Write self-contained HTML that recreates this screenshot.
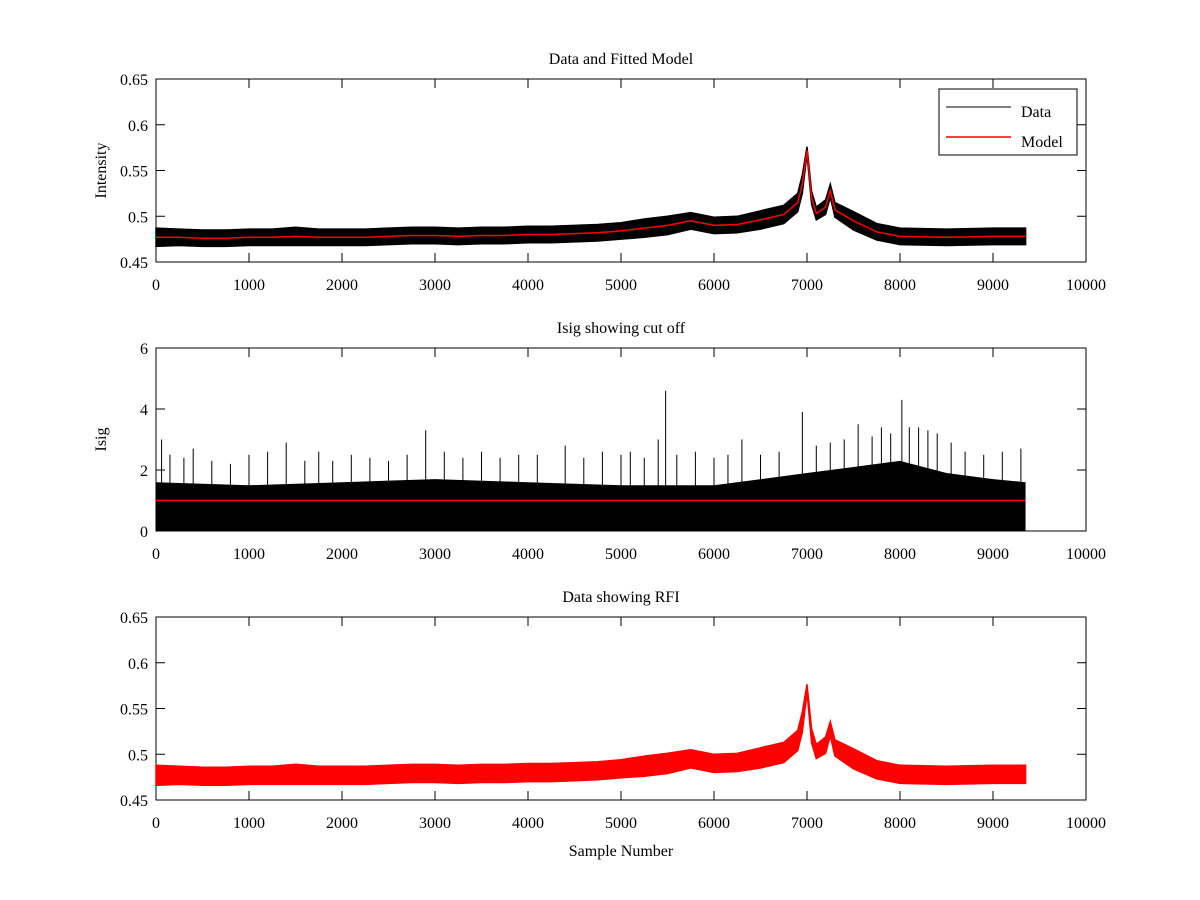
<!DOCTYPE html>
<html><head><meta charset="utf-8">
<style>
html,body{margin:0;padding:0;background:#fff;}
svg{display:block;}
text{font-family:"Liberation Serif",serif;font-size:16px;fill:#000;}
</style></head>
<body>
<svg id="fig" width="1200" height="900"></svg>
<script>
// ---- data ----
const sampleX = [0,250,500,750,1000,1250,1500,1750,2000,2250,2500,2750,3000,3250,3500,3750,4000,4250,4500,4750,5000,5250,5500,5750,6000,6250,6500,6750,6900,6950,7000,7050,7100,7200,7250,7300,7500,7750,8000,8500,9000,9350];
const modelY = [0.477,0.477,0.476,0.476,0.477,0.477,0.478,0.477,0.477,0.477,0.478,0.479,0.479,0.478,0.479,0.479,0.480,0.480,0.481,0.482,0.484,0.487,0.490,0.495,0.490,0.491,0.496,0.502,0.515,0.535,0.572,0.52,0.503,0.510,0.528,0.507,0.495,0.483,0.478,0.477,0.478,0.478];
const dataNoise = [0.010,0.009,0.009,0.009,0.009,0.009,0.010,0.009,0.009,0.009,0.009,0.009,0.009,0.009,0.009,0.009,0.009,0.009,0.009,0.009,0.009,0.010,0.010,0.009,0.009,0.009,0.010,0.010,0.010,0.010,0.004,0.007,0.007,0.008,0.007,0.008,0.010,0.009,0.009,0.009,0.009,0.009];
const isigX = [0,1000,2000,3000,4000,5000,6000,7000,7500,8000,8500,9000,9350];
const isigUpper = [1.6,1.5,1.6,1.7,1.6,1.5,1.5,1.9,2.1,2.3,1.9,1.7,1.6];
const spikeX = [60,150,300,400,600,800,1000,1200,1400,1600,1750,1900,2100,2300,2500,2700,2900,3100,3300,3500,3700,3900,4100,4400,4600,4800,5000,5100,5250,5400,5480,5600,5800,6000,6150,6300,6500,6700,6950,7100,7250,7400,7550,7700,7800,7900,8020,8100,8200,8300,8400,8550,8700,8900,9100,9300];
const spikeY = [3.0,2.5,2.4,2.7,2.3,2.2,2.5,2.6,2.9,2.3,2.6,2.3,2.5,2.4,2.3,2.5,3.3,2.6,2.4,2.6,2.4,2.5,2.5,2.8,2.4,2.6,2.5,2.6,2.4,3.0,4.6,2.5,2.6,2.4,2.5,3.0,2.5,2.6,3.9,2.8,2.9,3.0,3.5,3.1,3.4,3.2,4.3,3.4,3.4,3.3,3.2,2.9,2.6,2.5,2.6,2.7];
const cutoff = 1.0;
const xTicks = [0,1000,2000,3000,4000,5000,6000,7000,8000,9000,10000];
const intTicks = [0.45,0.5,0.55,0.6,0.65];
const isigTicks = [0,2,4,6];
const tickLabelsInt = ["0.45","0.5","0.55","0.6","0.65"];

const NS="http://www.w3.org/2000/svg";
const svg=document.getElementById('fig');
function mk(tag,attrs,parent){const e=document.createElementNS(NS,tag);for(const k in attrs)e.setAttribute(k,attrs[k]);(parent||svg).appendChild(e);return e;}
const X0=156,X1=1086;
const xs=v=>X0+(v/10000)*(X1-X0);
function yScale(top,bot,lo,hi){return v=>bot-(v-lo)/(hi-lo)*(bot-top);}

function axes(name,top,bot,ys,yt,ylabels,title,ylabel){
  const g=mk('g',{});
  
  
  const fr=mk('rect',{x:X0,y:top,width:X1-X0,height:bot-top,fill:'none',stroke:'#000','stroke-width':1},g);
  
  
  xTicks.forEach(t=>{
    const x=xs(t);
    mk('line',{x1:x,x2:x,y1:bot,y2:bot-9,stroke:'#000'},g);
    mk('line',{x1:x,x2:x,y1:top,y2:top+9,stroke:'#000'},g);
    const tx=mk('text',{x:x,y:bot+28,'text-anchor':'middle'},g);tx.textContent=t;
    
    
  });
  yt.forEach((t,i)=>{
    const y=ys(t);
    mk('line',{x1:X0,x2:X0+9,y1:y,y2:y,stroke:'#000'},g);
    mk('line',{x1:X1,x2:X1-9,y1:y,y2:y,stroke:'#000'},g);
    const tx=mk('text',{x:X0-8,y:y+6,'text-anchor':'end'},g);tx.textContent=ylabels[i];
    
    
  });
  const tt=mk('text',{x:621,y:top-15,'text-anchor':'middle'},g);tt.textContent=title;
  
  
  if(ylabel){
    const yc=(top+bot)/2;
    const yl=mk('text',{x:0,y:0,'text-anchor':'middle',transform:`translate(106,${yc}) rotate(-90)`},g);yl.textContent=ylabel;
    
    
  }
  return g;
}
function band(ys,k,color,name){
  let up=sampleX.map((x,i)=>`${xs(x).toFixed(1)},${ys(modelY[i]+dataNoise[i]*k).toFixed(1)}`);
  let dn=sampleX.map((x,i)=>`${xs(x).toFixed(1)},${ys(modelY[i]-dataNoise[i]*k).toFixed(1)}`).reverse();
  const p=mk('polygon',{points:up.concat(dn).join(' '),fill:color,stroke:color,'stroke-width':1.5});
  p.style.fill=color;
  
  
}

// Panel 1
const y1=yScale(79,262,0.45,0.65);
axes('intensity-panel',79,262,y1,intTicks,tickLabelsInt,'Data and Fitted Model','Intensity');
band(y1,1,'#000','data-series');
const mline=mk('polyline',{points:sampleX.map((x,i)=>`${xs(x)},${y1(modelY[i])}`).join(' '),fill:'none',stroke:'#f00','stroke-width':1.5});


// legend
const lg=mk('g',{});


mk('rect',{x:939,y:89,width:138,height:66,fill:'#fff',stroke:'#000'},lg);
mk('line',{x1:946,x2:1011,y1:107,y2:107,stroke:'#000'},lg);
mk('line',{x1:946,x2:1011,y1:137,y2:137,stroke:'#f00','stroke-width':1.5},lg);
const l1=mk('text',{x:1021,y:117},lg);l1.textContent='Data';


const l2=mk('text',{x:1021,y:147},lg);l2.textContent='Model';



// Panel 2
const y2=yScale(348,531,0,6);
axes('isig-panel',348,531,y2,isigTicks,isigTicks.map(String),'Isig showing cut off','Isig');
const ip=isigX.map((x,i)=>`${xs(x)},${y2(isigUpper[i])}`);
const ipoly=mk('polygon',{points:[`${xs(0)},${y2(0)}`].concat(ip,[`${xs(9350)},${y2(0)}`]).join(' '),fill:'#000'});


spikeX.forEach((x,i)=>{
  const s=mk('line',{x1:xs(x),x2:xs(x),y1:y2(0.5),y2:y2(spikeY[i]),stroke:'#000','stroke-width':1});
  
  
});
const cl=mk('line',{x1:xs(0),x2:xs(9350),y1:y2(cutoff),y2:y2(cutoff),stroke:'#f00','stroke-width':1.5});



// Panel 3
const y3=yScale(617,800,0.45,0.65);
axes('rfi-panel',617,800,y3,intTicks,tickLabelsInt,'Data showing RFI',null);
band(y3,1.1,'#f00','rfi-series');
const xl=mk('text',{x:621,y:856,'text-anchor':'middle'});xl.textContent='Sample Number';


</script>
</body></html>
